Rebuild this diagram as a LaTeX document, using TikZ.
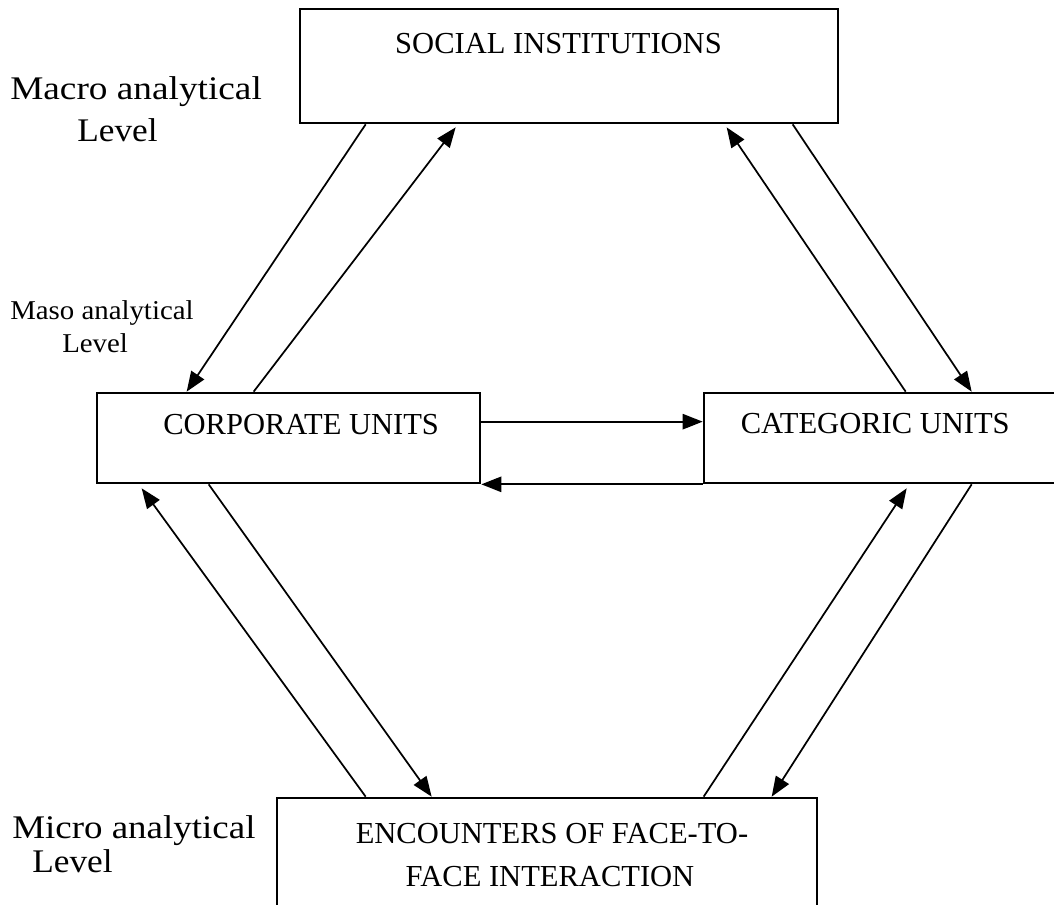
\documentclass[tikz,border=0pt]{standalone}
\usepackage{fontspec}
\setmainfont{Liberation Serif}
\usetikzlibrary{arrows.meta,calc}
\begin{document}
\begin{tikzpicture}[x=0.75pt,y=-0.75pt,
  box/.style={draw,line width=2pt,rectangle,inner sep=0pt},
  arr/.style={line width=1.3pt,-{Triangle[length=15pt,width=11.5pt]}},
  boxtext/.style={font=\fontsize{22.9}{27}\selectfont,inner sep=0pt},
  biglevel/.style={font=\fontsize{24.75}{29}\selectfont,inner sep=0pt},
  smalllevel/.style={font=\fontsize{20.4}{24}\selectfont,inner sep=0pt}]
\useasboundingbox (0,0) rectangle (1054,905);
\clip (0,0) rectangle (1054,905);
% boxes
\node[box,minimum width=403.5pt,minimum height=85.5pt] (soc) at (569,66) {};
\node[box,minimum width=287.25pt,minimum height=67.5pt] (corp) at (288.5,438) {};
\node[box,minimum width=289.5pt,minimum height=67.5pt] (cat) at (897,438) {};
\node[box,minimum width=405pt,minimum height=121.5pt] (enc) at (547,879) {};
% box texts
\node[boxtext,anchor=base] (soct) at (558.5,54) {SOCIAL INSTITUTIONS};
\node[boxtext,anchor=base west] (corpt) at (163,435) {CORPORATE UNITS};
\node[boxtext,anchor=base east] (catt) at (1010,434) {CATEGORIC UNITS};
\node[boxtext,anchor=base] (enct1) at (552,843) {ENCOUNTERS OF FACE-TO-};
\node[boxtext,anchor=base] (enct2) at (550,886) {FACE INTERACTION};
% level labels
\node[biglevel,anchor=base west] (macro1) at (10,100) {\scalebox{1.13}[1]{Macro analytical}};
\node[biglevel,anchor=base west] (macro2) at (77,142) {\scalebox{1.07}[1]{Level}};
\node[smalllevel,anchor=base west] (maso1) at (10,320) {\scalebox{1.06}[1]{Maso analytical}};
\node[smalllevel,anchor=base west] (maso2) at (62,353) {\scalebox{1.06}[1]{Level}};
\node[biglevel,anchor=base west] (micro1) at (12,838) {\scalebox{1.12}[1]{Micro analytical}};
\node[biglevel,anchor=base west] (micro2) at (32,872) {\scalebox{1.07}[1]{Level}};
% arrows between social and corporate
\draw[arr] ($(soc.south west)+(67,0)$) -- ($(corp.north west)+(91,0)$);
\draw[arr] ($(corp.north west)+(158,0)$) -- ($(soc.south west)+(157,3)$);
% arrows between social and categoric
\draw[arr] ($(cat.north west)+(203,0)$) -- ($(soc.south west)+(428,3)$);
\draw[arr] ($(soc.south west)+(494,0)$) -- ($(cat.north west)+(269,0)$);
% horizontal arrows
\draw[arr] ($(corp.north east)+(0,30)$) -- ($(cat.north west)+(0,30)$);
\draw[arr] (cat.south west) -- (corp.south east);
% arrows between corporate and encounters
\draw[arr] ($(corp.south west)+(113,0)$) -- ($(enc.north west)+(156,0)$);
\draw[arr] ($(enc.north west)+(90,0)$) -- ($(corp.south west)+(46,4)$);
% arrows between categoric and encounters
\draw[arr] ($(enc.north west)+(428,0)$) -- ($(cat.south west)+(204,4)$);
\draw[arr] ($(cat.south west)+(269,0)$) -- ($(enc.north west)+(496,0)$);
\end{tikzpicture}
\end{document}
